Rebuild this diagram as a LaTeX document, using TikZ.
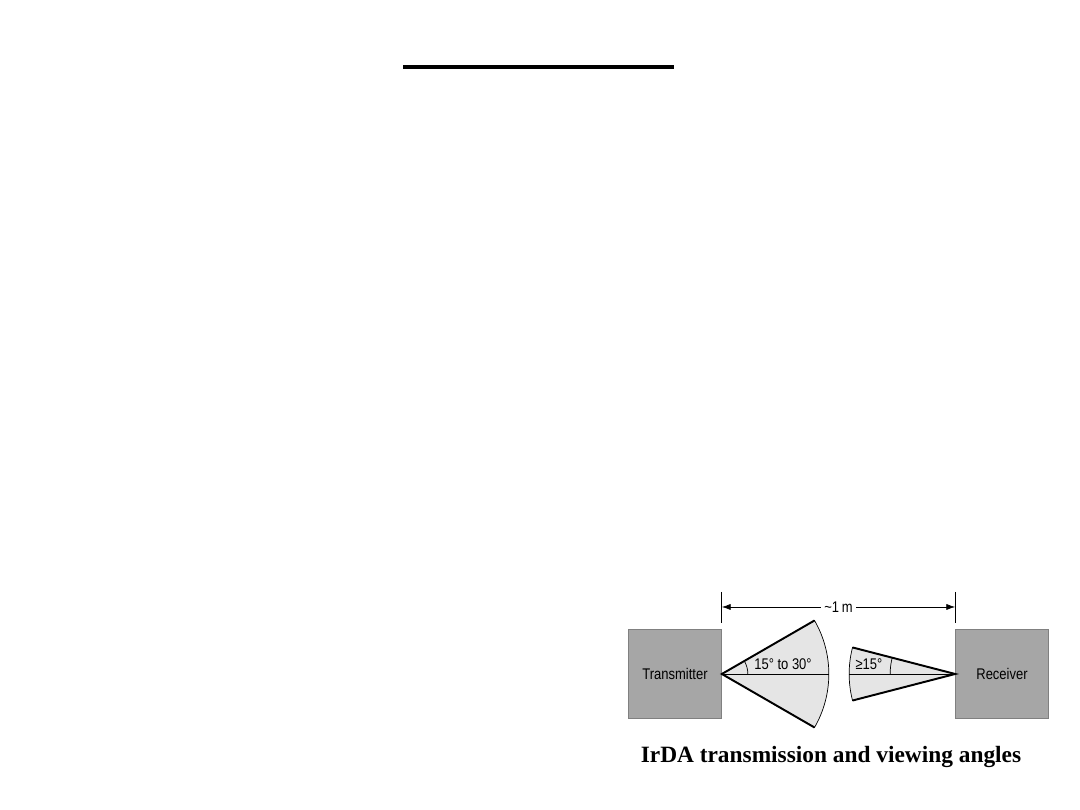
\documentclass[tikz,border=0pt]{standalone}
\usepackage{fontspec}
\setmainfont{Liberation Serif}
\setsansfont{Liberation Sans}[FakeStretch=0.84]
\usepackage{tikz}
\usetikzlibrary{positioning,calc,arrows.meta}

\begin{document}
\begin{tikzpicture}[
        x=0.02cm, y=0.02cm,
        every node/.style={font=\sffamily\fontsize{8.8}{10}\selectfont},
        box/.style={rectangle, draw=black!50, fill=black!35, minimum width=1.86cm, minimum height=1.78cm, inner sep=0pt},
        cone/.style={fill=black!10, draw=black, thin},
        edge/.style={draw=black, line width=1.1pt, line join=miter},
        dim/.style={{Latex[length=5pt,width=3.5pt]}-{Latex[length=5pt,width=3.5pt]}, thin},
        caption/.style={font=\rmfamily\bfseries\fontsize{13.3}{15}\selectfont}
        ]
        \useasboundingbox (0,0) rectangle (1080,810);

        % title rule
        \coordinate (ruleL) at (403,743);
        \coordinate (ruleR) at (674,743);
        \draw[line width=2.3pt] (ruleL) -- (ruleR);

        \node[box] (tx) at (675,136) {Transmitter};
        \node[box] (rx) at (1002,136) {Receiver};

        % transmit cone
        \filldraw[cone] (tx.east) -- +(30:107) arc[start angle=30, end angle=-30, radius=107] -- cycle;
        \draw[edge] ($(tx.east)+(30:107)$) -- (tx.east) -- +(-30:107);
        \draw[thin] (tx.east) -- +(107,0);
        \draw[thin] ($(tx.east)+(26,0)$) arc[start angle=0, end angle=30, radius=26];
        \node (txangle) at (783,146) {15° to 30°};

        % receive cone
        \filldraw[cone] (rx.west) -- +(165.5:106) arc[start angle=165.5, end angle=194.5, radius=106] -- cycle;
        \draw[edge] ($(rx.west)+(165.5:106)$) -- (rx.west) -- +(194.5:106);
        \draw[thin] (rx.west) -- +(-106,0);
        \draw[thin] ($(rx.west)+(-65,0)$) arc[start angle=180, end angle=165.5, radius=65];
        \node (rxangle) at (869,146) {≥15°};

        % distance
        \coordinate (dimL) at ($(tx.east)+(0,82)$);
        \coordinate (dimR) at ($(rx.west)+(0,82)$);
        \draw[thin] (dimL) -- +(0,-31);
        \draw[thin] (dimR) -- +(0,-31);
        \draw[dim] ($(dimL)+(0,-15)$) -- node[fill=white, inner xsep=2pt] {\textasciitilde 1\,m} ($(dimR)+(0,-15)$);

        \node[caption] (title) at (831,53) {IrDA transmission and viewing angles};

    \end{tikzpicture}
\end{document}
